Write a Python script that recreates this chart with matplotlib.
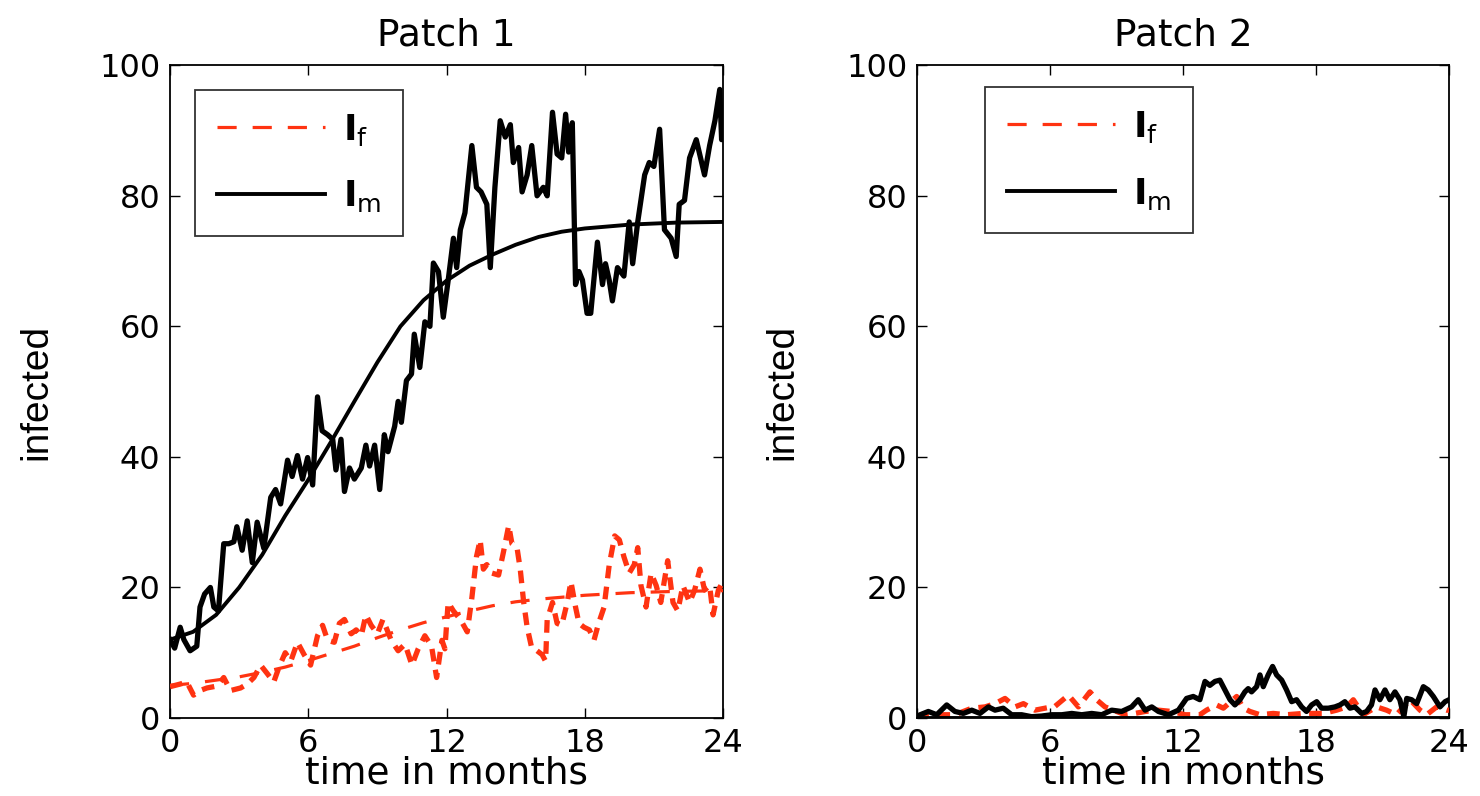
import matplotlib as mpl
mpl.use("Agg")
import matplotlib.pyplot as plt
from matplotlib import font_manager

fams = {f.name for f in font_manager.fontManager.ttflist}
narrow = "Liberation Sans Narrow" if "Liberation Sans Narrow" in fams else "Liberation Sans"

mpl.rcParams.update({
    "font.family": ["DejaVu Sans"],
    "mathtext.fontset": "dejavusans",
    "axes.linewidth": 1.3,
    "xtick.direction": "in",
    "ytick.direction": "in",
    "xtick.top": True,
    "ytick.right": True,
})

RED = "#ff3311"

# ---- Patch 1: stochastic I_m ----
t_m1 = [0, 0.2, 0.44, 0.6, 0.87, 1.16, 1.3, 1.5, 1.75, 1.9, 2.1, 2.33, 2.55, 2.77, 2.9,
        3.13, 3.35, 3.57, 3.78, 4.07, 4.37, 4.58, 4.8, 5.1, 5.3, 5.53, 5.75, 5.97, 6.19,
        6.4, 6.6, 6.84, 7.06, 7.2, 7.42, 7.57, 7.79, 8.0, 8.3, 8.5, 8.66, 8.88, 9.1, 9.3,
        9.46, 9.75, 9.9, 10.04, 10.26, 10.48, 10.6, 10.84, 11.06, 11.28, 11.43, 11.65,
        11.86, 12.07, 12.3, 12.44, 12.6, 12.8, 13.1, 13.3, 13.5, 13.75, 13.9, 14.1, 14.33,
        14.55, 14.77, 14.9, 15.13, 15.28, 15.5, 15.7, 15.93, 16.2, 16.37, 16.6, 16.8, 17.0,
        17.17, 17.3, 17.46, 17.6, 17.75, 17.9, 18.1, 18.26, 18.55, 18.77, 18.9, 19.06, 19.2,
        19.42, 19.7, 19.93, 20.08, 20.3, 20.6, 20.8, 21.0, 21.25, 21.46, 21.75, 21.97, 22.1,
        22.33, 22.55, 22.84, 23.2, 23.42, 23.65, 23.86, 23.94, 24.0]
Im1 = [12, 10.7, 13.9, 12, 10.3, 11, 17, 19, 20, 17, 16.4, 26.7, 26.7, 27, 29.3,
       25.7, 30.2, 23.8, 30, 26, 33.8, 35, 32.8, 39.5, 37, 40.2, 36.6, 39.9, 35.7,
       49.2, 44, 43.4, 42.7, 38, 42.7, 34.7, 38.3, 36.6, 38.3, 41.8, 38.6, 41.8, 35, 43.4,
       40.8, 44.7, 48.5, 45.3, 51.7, 52.7, 58.8, 53.7, 60.7, 60, 69.7, 68.4,
       61.4, 67, 73.5, 69, 74.8, 77.4, 87.7, 81.3, 80.6, 78.7, 69, 81.3, 91.5,
       89, 90.9, 85.1, 87.4, 80.6, 83.2, 87.7, 80, 81.3, 80, 92.8, 86.4, 85.8,
       92.5, 86.7, 91.2, 66.4, 68.4, 67.1, 62, 62, 72.9, 66.4, 69.6, 67.1, 63.9,
       69, 67.7, 76, 69.6, 76, 83.2, 85.1, 84.5, 90.2, 74.8, 73.5, 70.7, 78.7,
       79.3, 85.8, 88.6, 83.2, 87.7, 91.5, 96.3, 88.6, 91]

# ---- Patch 1: stochastic I_f ----
t_f1 = [0, 0.44, 0.73, 1.02, 1.3, 1.6, 2.04, 2.33, 2.62, 3.06, 3.35, 3.64, 3.93, 4.22,
        4.5, 4.73, 5.0, 5.24, 5.53, 5.82, 6.1, 6.4, 6.62, 6.84, 7.13, 7.35, 7.57, 7.86,
        8.08, 8.3, 8.5, 8.73, 9.0, 9.24, 9.6, 9.9, 10.2, 10.5, 10.77, 11.06, 11.35, 11.57,
        11.8, 11.93, 12.07, 12.3, 12.6, 12.9, 13.1, 13.3, 13.46, 13.6, 13.75, 13.97, 14.26,
        14.47, 14.7, 14.84, 15.06, 15.2, 15.35, 15.5, 15.7, 15.93, 16.15, 16.3, 16.37, 16.6,
        16.8, 17.0, 17.24, 17.4, 17.6, 17.75, 17.97, 18.2, 18.4, 18.6, 18.84, 19.06, 19.3,
        19.5, 19.7, 19.93, 20.15, 20.3, 20.44, 20.66, 20.88, 21.1, 21.3, 21.6, 21.83, 22.04,
        22.26, 22.55, 22.77, 23.0, 23.2, 23.42, 23.57, 23.8, 24.0]
If1 = [4.8, 5.2, 5.5, 3.5, 4.2, 4.6, 4.9, 6.2, 4.2, 4.6, 5.2, 6.2, 8.1, 6.8,
       5.5, 7.8, 10, 8.7, 11.6, 9.7, 8.1, 12.6, 14.2, 11.9, 11.6, 14.5, 15.1, 12.9,
       13.5, 12.6, 15.8, 14.2, 12.9, 15.1, 11.9, 10.3, 11.3, 8.1, 10.6, 12.6, 11, 6.2,
       11.9, 10.6, 17.7, 16.4, 15.1, 13.2, 18.4, 24.7, 27.3, 22.8, 23.5, 22.2, 21.9,
       25.4, 29.5, 26.7, 26.1, 22.8, 17.7, 13.9, 10.7, 10.3, 9.7, 8.7, 15.1, 17.7,
       14.5, 14.2, 17.7, 20.9, 17, 14.5, 13.9, 13.5, 11.9, 14.5, 17, 23.4, 27.9,
       27.3, 24.7, 22.2, 23.5, 26.1, 20.3, 17, 22.2, 20.3, 17.7, 24.1, 17.7, 16.4,
       20.3, 17.7, 19.6, 22.8, 19.6, 20.3, 15.8, 19.6, 20.9]

# ---- Patch 1: deterministic solutions ----
t_det = [0, 1, 2, 3, 4, 5, 6, 7, 8, 9, 10, 11, 12, 13, 14, 15, 16, 17, 18, 19, 20, 22, 24]
Im1_det = [12, 13.2, 15.8, 20, 25, 31, 36.5, 42.4, 48.5, 54.5, 60, 64, 67, 69.3, 71,
           72.5, 73.7, 74.5, 75, 75.3, 75.6, 75.9, 76]
If1_det = [5, 5.3, 5.8, 6.3, 7, 7.8, 8.8, 9.9, 11, 12.3, 13.5, 14.6, 15.5, 16.4, 17.2,
           17.8, 18.2, 18.5, 18.8, 19, 19.2, 19.4, 19.5]

# ---- Patch 2: stochastic I_m ----
t_m2 = [0, 0.51, 0.89, 1.34, 1.71, 2.09, 2.47, 2.84, 3.22, 3.52, 3.89, 4.27, 4.72, 5.17,
        5.62, 6.08, 6.53, 6.98, 7.43, 7.88, 8.33, 8.78, 9.23, 9.68, 9.98, 10.29, 10.59,
        10.89, 11.34, 11.79, 12.16, 12.46, 12.76, 12.99, 13.21, 13.44, 13.66, 13.89, 14.12,
        14.34, 14.57, 14.79, 14.94, 15.09, 15.32, 15.47, 15.62, 15.84, 16.04, 16.22, 16.45,
        16.67, 16.9, 17.12, 17.35, 17.57, 17.8, 18.03, 18.25, 18.55, 18.85, 19.08, 19.3,
        19.53, 19.75, 20.06, 20.28, 20.5, 20.66, 20.88, 21.11, 21.33, 21.56, 21.78, 21.96,
        22.09, 22.31, 22.54, 22.84, 23.06, 23.29, 23.59, 23.82, 24.0]
Im2 = [0.3, 1.0, 0.5, 2.0, 1.0, 0.7, 1.2, 0.7, 1.7, 1.2, 1.5, 0.5, 0.5, 0.2,
       0.3, 0.5, 0.5, 0.7, 0.5, 0.7, 0.5, 1.2, 1.0, 1.7, 2.8, 1.2, 1.7,
       1.0, 0.5, 1.2, 3.0, 3.3, 2.8, 5.6, 5.0, 5.6, 5.8, 4.3, 2.8,
       2.0, 2.8, 4.0, 4.5, 4.0, 4.8, 6.6, 4.8, 6.6, 7.9, 6.6, 5.8,
       4.3, 2.5, 2.8, 1.7, 1.0, 2.0, 2.5, 1.5, 1.5, 1.7, 2.0, 2.5,
       1.5, 1.7, 0.7, 1.0, 2.0, 4.3, 2.8, 4.3, 2.8, 4.0, 2.8, 0.2,
       3.0, 2.8, 2.2, 4.8, 4.3, 3.3, 1.7, 2.5, 2.8]

# ---- Patch 2: stochastic I_f ----
t_f2 = [0, 0.36, 0.96, 1.71, 2.47, 3.07, 3.52, 3.97, 4.42, 4.8, 5.32, 5.77, 6.23, 6.83,
        7.28, 7.8, 8.1, 8.48, 8.86, 9.38, 9.83, 10.29, 10.89, 11.49, 12.09, 12.76, 13.06,
        13.51, 13.82, 14.42, 14.72, 15.02, 15.47, 16.07, 16.67, 17.42, 18.33, 18.93, 19.38,
        19.68, 20.13, 20.73, 21.18, 21.63, 22.24, 22.69, 22.99, 23.44, 23.89, 24.0]
If2 = [0.2, 0.7, 0.5, 0.5, 1.5, 1.7, 2.2, 3.0, 1.7, 2.2, 1.2, 1.5, 1.8, 3.5,
       1.7, 4.0, 2.8, 1.7, 1.2, 0.5, 0.7, 1.0, 1.2, 1.0, 0.5, 0.5, 1.2,
       2.0, 1.5, 3.3, 1.5, 1.0, 0.5, 0.7, 0.5, 0.7, 0.7, 1.2, 1.7,
       2.8, 0.5, 1.7, 1.2, 0.5, 2.8, 1.2, 0.5, 1.7, 1.2, 1.2]

# ---- Patch 2: deterministic solutions (extinct) ----
t_det2 = [0, 24]
Im2_det = [0, 0]
If2_det = [0, 0]

panels = [
    ("Patch 1", t_m1, Im1, t_f1, If1, t_det, Im1_det, If1_det, (0.045, 0.962)),
    ("Patch 2", t_m2, Im2, t_f2, If2, t_det2, Im2_det, If2_det, (0.128, 0.966)),
]
positions = [[0.1149, 0.098, 0.3736, 0.820], [0.6196, 0.098, 0.3595, 0.820]]

fig = plt.figure(figsize=(14.8, 7.96), dpi=100)

for (title, tm, im, tf, yf, td, imd, ifd, leg_xy), pos in zip(panels, positions):
    ax = fig.add_axes(pos)
    # stochastic paths
    ax.plot(tf, yf, color=RED, lw=3.8, dashes=(2.4, 1.6), zorder=3)
    ax.plot(tm, im, color="black", lw=3.8, zorder=4)
    # deterministic
    lf, = ax.plot(td, ifd, color=RED, lw=2.3, dashes=(6, 5), zorder=5)
    lm, = ax.plot(td, imd, color="black", lw=2.8, zorder=6)

    ax.set_xlim(0, 24)
    ax.set_ylim(0, 100)
    ax.set_xticks([0, 6, 12, 18, 24])
    ax.set_yticks([0, 20, 40, 60, 80, 100])
    ax.tick_params(labelsize=23, length=7, width=1.0)
    ax.tick_params(axis="x", pad=7)
    ax.tick_params(axis="y", pad=7)

    ax.set_title(title, fontsize=27, pad=14)
    ax.set_xlabel("time in months", fontsize=27, labelpad=-2)
    ax.set_ylabel("infected", fontsize=28, family=narrow)
    ax.yaxis.set_label_coords(-0.21 if title == "Patch 1" else -0.22, 0.5)

    leg = ax.legend([lf, lm], [r"$\mathbf{I}_{\mathrm{f}}$", r"$\mathbf{I}_{\mathrm{m}}$"],
                    loc="upper left", bbox_to_anchor=leg_xy, borderaxespad=0,
                    fontsize=26, frameon=True, fancybox=False, edgecolor="black",
                    handlelength=3.0, handletextpad=0.5, labelspacing=0.85,
                    borderpad=0.6)
    leg.get_frame().set_linewidth(1.3)

fig.savefig("out.png", dpi=100)
